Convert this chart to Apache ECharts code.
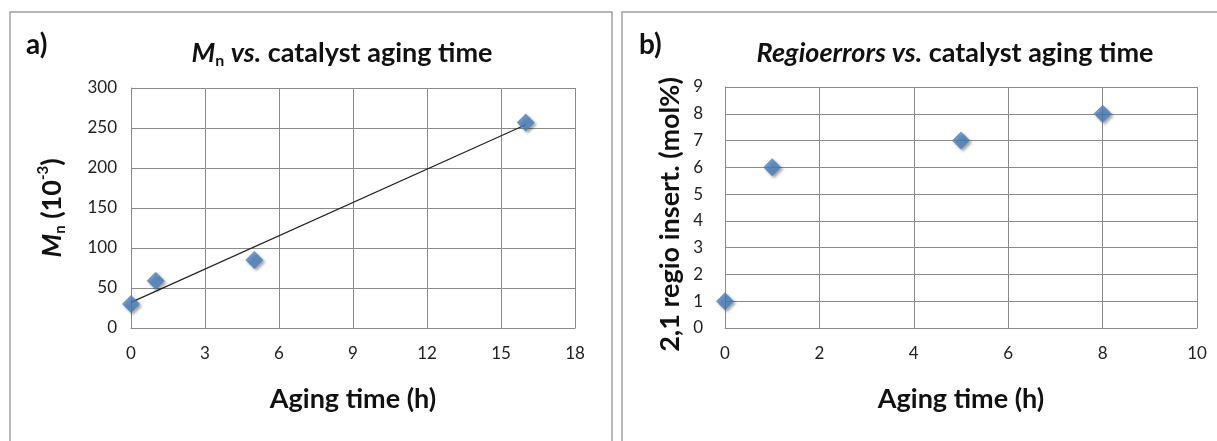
<!DOCTYPE html>
<html><head><meta charset="utf-8">
<script src="https://cdn.jsdelivr.net/npm/echarts@6/dist/echarts.min.js"></script>
<style>html,body{margin:0;padding:0;background:#fff}#c{width:1217px;height:441px}</style>
</head><body><div id="c"></div>
<script>
// Panel a data
const agingA = [0, 1, 5, 16];
const mnA = [30, 59, 85, 257];
const trendAX = [0, 16];
const trendAY = [32, 254];
const xAxisA = [0, 18, 3];   // min, max, interval
const yAxisA = [0, 300, 50];
// Panel b data
const agingB = [0, 1, 5, 8];
const regioB = [1, 6, 7, 8];
const xAxisB = [0, 10, 2];
const yAxisB = [0, 9, 1];

const FONT = 'Lato, "Open Sans", sans-serif';
const GRID = '#8a8a8a';
const BLUE = '#4a7ebb';
const NAME_SIZE = 27;
const TICK_SIZE = 17;
const chart = echarts.init(document.getElementById('c'), null, {renderer: 'canvas'});

function xAx(idx, r) {
  return {
    type: 'value', gridIndex: idx, min: r[0], max: r[1], interval: r[2],
    name: 'Aging time (h)', nameLocation: 'middle', nameGap: 58,
    nameTextStyle: {fontFamily: FONT, fontSize: NAME_SIZE, fontWeight: 'bold', color: '#111'},
    axisLine: {show: true, onZero: false, lineStyle: {color: GRID, width: 1}},
    axisTick: {show: false},
    axisLabel: {fontFamily: FONT, fontSize: TICK_SIZE, color: '#222', margin: 17},
    splitLine: {show: true, lineStyle: {color: GRID, width: 1}}
  };
}
function yAx(idx, r, name, gap, rich, margin, pad) {
  return {
    type: 'value', gridIndex: idx, min: r[0], max: r[1], interval: r[2],
    name: name, nameLocation: 'middle', nameGap: gap, nameRotate: 90,
    nameTextStyle: {fontFamily: FONT, fontSize: NAME_SIZE, fontWeight: 'bold', color: '#111', rich: rich, padding: pad},
    axisLine: {show: true, lineStyle: {color: GRID, width: 1}},
    axisTick: {show: false},
    axisLabel: {fontFamily: FONT, fontSize: TICK_SIZE, color: '#222', margin: margin},
    splitLine: {show: true, lineStyle: {color: GRID, width: 1}}
  };
}
const boldRich = {
  i: {fontFamily: FONT, fontSize: NAME_SIZE, fontWeight: 'bold', fontStyle: 'italic', color: '#111', lineHeight: 32, verticalAlign: 'middle'},
  n: {fontFamily: FONT, fontSize: NAME_SIZE, fontWeight: 'bold', color: '#111', lineHeight: 32, verticalAlign: 'middle'},
  sub: {fontFamily: FONT, fontSize: 15, fontWeight: 'bold', color: '#111', lineHeight: 10, verticalAlign: 'bottom'},
  sup: {fontFamily: FONT, fontSize: 15, fontWeight: 'bold', color: '#111', lineHeight: 22, verticalAlign: 'top'}
};
const titleRich = {
  i: {fontFamily: FONT, fontSize: 27, fontWeight: 'bold', fontStyle: 'italic', fill: '#111', lineHeight: 32, verticalAlign: 'middle'},
  n: {fontFamily: FONT, fontSize: 27, fontWeight: 'bold', fill: '#111', lineHeight: 32, verticalAlign: 'middle'},
  sub: {fontFamily: FONT, fontSize: 16, fontWeight: 'bold', fill: '#111', lineHeight: 10, verticalAlign: 'bottom'}
};
const sym = {
  color: BLUE, shadowBlur: 3, shadowColor: 'rgba(0,0,0,0.45)', shadowOffsetX: 2, shadowOffsetY: 2
};

chart.setOption({
  animation: false,
  backgroundColor: '#fff',
  grid: [
    {left: 131, top: 88, width: 444, height: 240},
    {left: 725, top: 87, width: 472, height: 241}
  ],
  xAxis: [xAx(0, xAxisA), xAx(1, xAxisB)],
  yAxis: [
    yAx(0, yAxisA, '{i|M}{sub|n}{n| (10}{sup|-3}{n|)}', 63, boldRich, 14, [0, 0, 0, 0]),
    yAx(1, yAxisB, '2,1 regio insert. (mol%)', 41, undefined, 22, [0, 14, 0, 0])
  ],
  series: [
    {type: 'line', xAxisIndex: 0, yAxisIndex: 0, data: trendAX.map((x, i) => [x, trendAY[i]]),
     showSymbol: false, symbol: 'none', lineStyle: {color: '#222', width: 1.2}, z: 3},
    {type: 'scatter', xAxisIndex: 0, yAxisIndex: 0, data: agingA.map((x, i) => [x, mnA[i]]),
     symbol: 'diamond', symbolSize: [18, 18], itemStyle: sym, z: 4},
    {type: 'scatter', xAxisIndex: 1, yAxisIndex: 1, data: agingB.map((x, i) => [x, regioB[i]]),
     symbol: 'diamond', symbolSize: [18, 18], itemStyle: sym, z: 4}
  ],
  graphic: [
    {type: 'rect', shape: {x: 10, y: 12, width: 602, height: 460}, style: {fill: 'none', stroke: '#a0a0a0', lineWidth: 1.5}},
    {type: 'rect', shape: {x: 622, y: 12, width: 620, height: 460}, style: {fill: 'none', stroke: '#a0a0a0', lineWidth: 1.5}},
    {type: 'text', x: 26, y: 45, style: {text: 'a)', font: 'bold 28px ' + FONT, fill: '#111', verticalAlign: 'middle'}},
    {type: 'text', x: 639, y: 45, style: {text: 'b)', font: 'bold 28px ' + FONT, fill: '#111', verticalAlign: 'middle'}},
    {type: 'text', x: 342, y: 53, style: {text: '{i|M}{sub|n}{n| }{i|vs.}{n| catalyst aging time}', rich: titleRich, align: 'center', verticalAlign: 'middle'}},
    {type: 'text', x: 955, y: 53, style: {text: '{i|Regioerrors vs.}{n| catalyst aging time}', rich: titleRich, align: 'center', verticalAlign: 'middle'}}
  ]
});
</script></body></html>
